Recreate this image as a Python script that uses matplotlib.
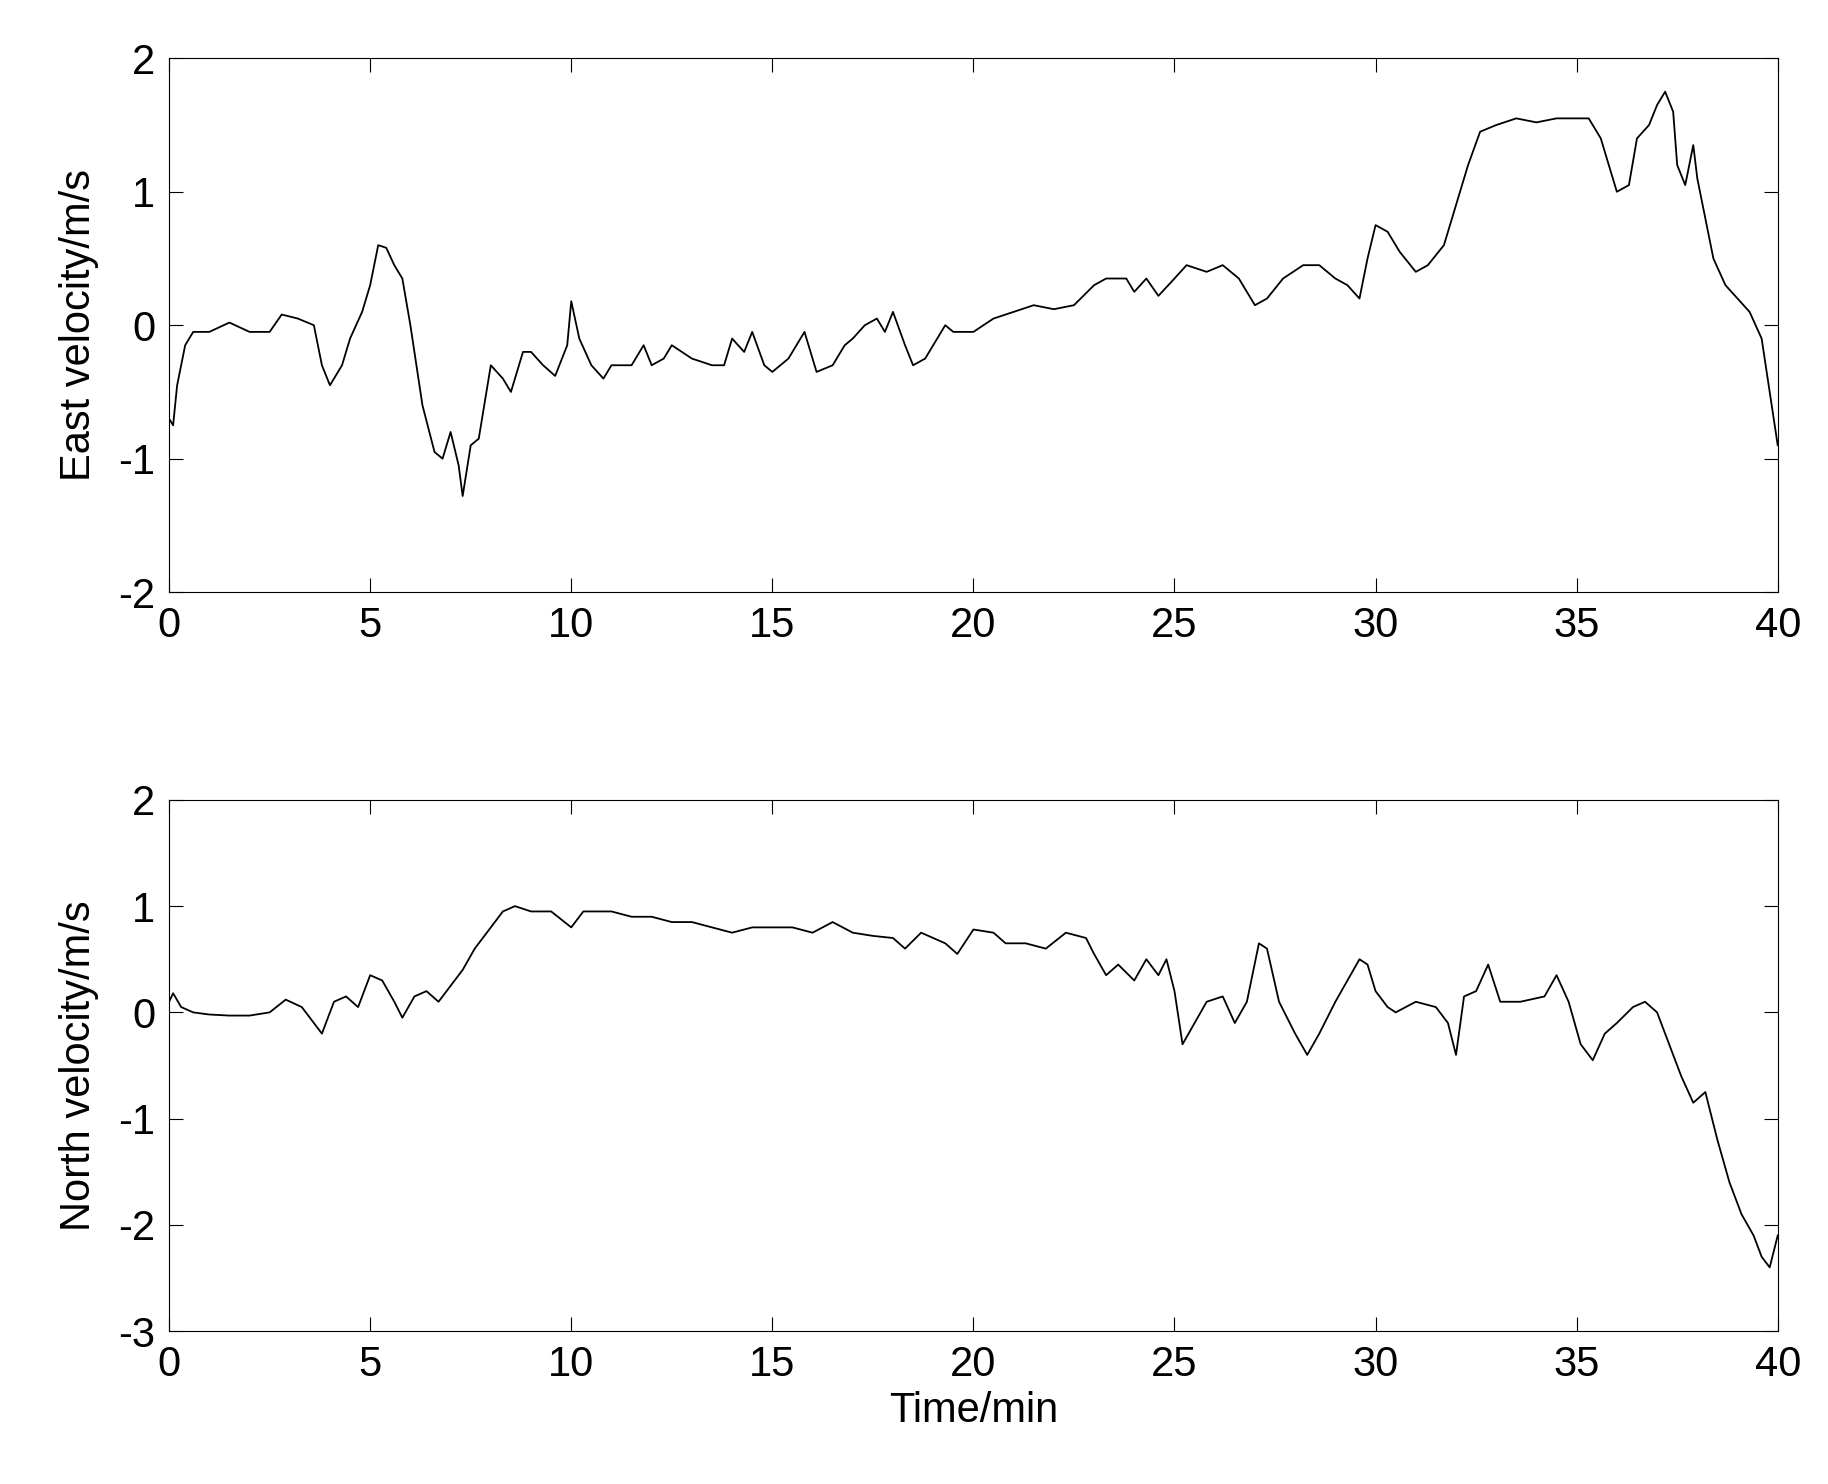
import matplotlib
matplotlib.use("Agg")
import matplotlib.pyplot as plt

east_t = [0,0.1,0.2,0.4,0.6,1,1.5,2,2.5,2.8,3.2,3.6,3.8,4,4.3,4.5,4.8,5,5.2,5.4,5.6,5.8,6,6.3,6.6,6.8,7,7.2,7.3,7.5,7.7,8,8.3,8.5,8.8,9,9.3,9.6,9.9,10,10.2,10.5,10.8,11,11.5,11.8,12,12.3,12.5,13,13.5,13.8,14,14.3,14.5,14.8,15,15.4,15.8,16.1,16.5,16.8,17,17.3,17.6,17.8,18,18.3,18.5,18.8,19,19.3,19.5,20,20.5,21,21.5,22,22.5,23,23.3,23.8,24,24.3,24.6,25,25.3,25.8,26.2,26.6,27,27.3,27.7,28.2,28.6,29,29.3,29.6,29.8,30,30.3,30.6,31,31.3,31.7,32,32.3,32.6,33,33.5,34,34.5,35,35.3,35.6,36,36.3,36.5,36.8,37,37.2,37.4,37.5,37.7,37.9,38,38.2,38.4,38.7,39,39.3,39.6,39.8,40]
east_v = [-0.7,-0.75,-0.45,-0.15,-0.05,-0.05,0.02,-0.05,-0.05,0.08,0.05,0.0,-0.3,-0.45,-0.3,-0.1,0.1,0.3,0.6,0.58,0.45,0.35,0.0,-0.6,-0.95,-1.0,-0.8,-1.05,-1.28,-0.9,-0.85,-0.3,-0.4,-0.5,-0.2,-0.2,-0.3,-0.38,-0.15,0.18,-0.1,-0.3,-0.4,-0.3,-0.3,-0.15,-0.3,-0.25,-0.15,-0.25,-0.3,-0.3,-0.1,-0.2,-0.05,-0.3,-0.35,-0.25,-0.05,-0.35,-0.3,-0.15,-0.1,0.0,0.05,-0.05,0.1,-0.15,-0.3,-0.25,-0.15,0.0,-0.05,-0.05,0.05,0.1,0.15,0.12,0.15,0.3,0.35,0.35,0.25,0.35,0.22,0.35,0.45,0.4,0.45,0.35,0.15,0.2,0.35,0.45,0.45,0.35,0.3,0.2,0.5,0.75,0.7,0.55,0.4,0.45,0.6,0.9,1.2,1.45,1.5,1.55,1.52,1.55,1.55,1.55,1.4,1.0,1.05,1.4,1.5,1.65,1.75,1.6,1.2,1.05,1.35,1.1,0.8,0.5,0.3,0.2,0.1,-0.1,-0.5,-0.9]

north_t = [0,0.1,0.3,0.6,1,1.5,2,2.5,2.9,3.3,3.6,3.8,4.1,4.4,4.7,5,5.3,5.6,5.8,6.1,6.4,6.7,7,7.3,7.6,8,8.3,8.6,9,9.5,10,10.3,11,11.5,12,12.5,13,13.5,14,14.5,15,15.5,16,16.5,17,17.5,18,18.3,18.7,19,19.3,19.6,20,20.5,20.8,21.3,21.8,22.3,22.8,23,23.3,23.6,24,24.3,24.6,24.8,25,25.2,25.5,25.8,26.2,26.5,26.8,27.1,27.3,27.6,28,28.3,28.6,29,29.3,29.6,29.8,30,30.3,30.5,31,31.5,31.8,32,32.2,32.5,32.8,33.1,33.6,34.2,34.5,34.8,35.1,35.4,35.7,36,36.4,36.7,37,37.3,37.6,37.9,38.2,38.5,38.8,39.1,39.4,39.6,39.8,40]
north_v = [0.1,0.18,0.05,0.0,-0.02,-0.03,-0.03,0.0,0.12,0.05,-0.1,-0.2,0.1,0.15,0.05,0.35,0.3,0.1,-0.05,0.15,0.2,0.1,0.25,0.4,0.6,0.8,0.95,1.0,0.95,0.95,0.8,0.95,0.95,0.9,0.9,0.85,0.85,0.8,0.75,0.8,0.8,0.8,0.75,0.85,0.75,0.72,0.7,0.6,0.75,0.7,0.65,0.55,0.78,0.75,0.65,0.65,0.6,0.75,0.7,0.55,0.35,0.45,0.3,0.5,0.35,0.5,0.2,-0.3,-0.1,0.1,0.15,-0.1,0.1,0.65,0.6,0.1,-0.2,-0.4,-0.2,0.1,0.3,0.5,0.45,0.2,0.05,0.0,0.1,0.05,-0.1,-0.4,0.15,0.2,0.45,0.1,0.1,0.15,0.35,0.1,-0.3,-0.45,-0.2,-0.1,0.05,0.1,0.0,-0.3,-0.6,-0.85,-0.75,-1.2,-1.6,-1.9,-2.1,-2.3,-2.4,-2.1]

plt.rcParams['font.family'] = ['Liberation Sans', 'DejaVu Sans']
plt.rcParams['axes.unicode_minus'] = False
fig = plt.figure(figsize=(18.28, 14.84), dpi=100)
ax1 = fig.add_axes([0.0925, 0.601, 0.880, 0.3597])
ax2 = fig.add_axes([0.0925, 0.103, 0.880, 0.358])

for ax, t, v, yl, lab in [(ax1, east_t, east_v, (-2, 2), 'East velocity/m/s'),
                          (ax2, north_t, north_v, (-3, 2), 'North velocity/m/s')]:
    ax.plot(t, v, color='black', lw=1.3)
    ax.set_xlim(0, 40)
    ax.set_ylim(*yl)
    ax.set_xticks(range(0, 41, 5))
    ax.set_yticks(range(yl[0], yl[1] + 1))
    ax.tick_params(direction='in', top=True, right=True, labelsize=30, length=10, pad=10)
    ax.set_ylabel(lab, fontsize=30, labelpad=14)
ax2.set_xlabel('Time/min', fontsize=30)
fig.savefig('out.png', dpi=100, facecolor='white')
